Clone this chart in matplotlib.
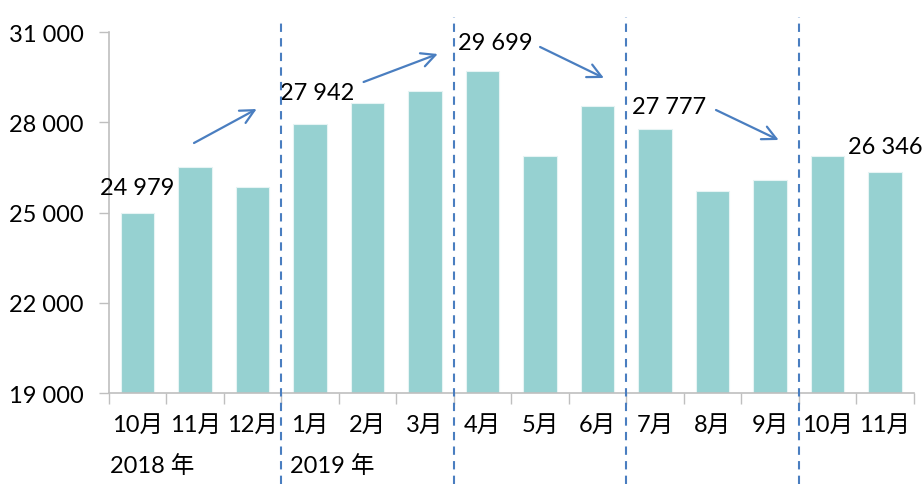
import matplotlib
matplotlib.use("Agg")
import matplotlib.pyplot as plt
import numpy as np

months = ["10月", "11月", "12月", "1月", "2月", "3月", "4月", "5月", "6月",
          "7月", "8月", "9月", "10月", "11月"]
values = [24979, 26510, 25850, 27942, 28630, 29040, 29699, 26890, 28530,
          27777, 25710, 26080, 26890, 26346]
labelled = {0: "24 979", 3: "27 942", 6: "29 699", 9: "27 777", 13: "26 346"}
label_offsets = {0: (0, 26), 3: (7, 32), 6: (13, 29), 9: (14, 22), 13: (0, 26)}
year_labels = [(0, "2018 年", 1), (3, "2019 年", 9)]
separators = [2.5, 5.5, 8.5, 11.5]
arrows = [((0.98, 27311), (2.07, 28441)),
          ((3.93, 29339), (5.22, 30270)),
          ((7.00, 30503), (8.11, 29472)),
          ((10.06, 28408), (11.15, 27411))]
yticks = [19000, 22000, 25000, 28000, 31000]

FAM = ["Lato", "Noto Sans CJK SC", "DejaVu Sans"]
plt.rcParams["font.family"] = FAM
FS = 17
BLUE = "#4A7EC0"

fig = plt.figure(figsize=(9.23, 4.85), dpi=100)
ax = fig.add_axes([0.118, 0.1876, 0.872, 0.7443])

x = np.arange(len(values))
ax.bar(x, values, width=0.58, color="#96D1D1", edgecolor="#E6F4F4", linewidth=0.8, zorder=2)

ax.set_xlim(-0.5, len(values) - 0.5)
ax.set_ylim(19000, 31000)
ax.set_yticks(yticks)
ax.set_yticklabels([f"{v:,}".replace(",", " ") for v in yticks], fontsize=FS)

ax.set_xticks(x)
ax.set_xticklabels(months, fontsize=FS)
ax.set_xticks(np.arange(-0.5, len(values), 1.0), minor=True)
ax.tick_params(axis="x", which="major", length=0, pad=15)
ax.tick_params(axis="x", which="minor", length=8, color="#BFBFBF", width=1)
ax.tick_params(axis="y", length=7, color="#BFBFBF", width=1, pad=11)

for s in ["top", "right"]:
    ax.spines[s].set_visible(False)
for s in ["left", "bottom"]:
    ax.spines[s].set_color("#BFBFBF")
    ax.spines[s].set_linewidth(1.2)

for i, txt in labelled.items():
    dx, dy = label_offsets[i]
    ax.annotate(txt, (x[i], values[i]), xytext=(dx, dy), textcoords="offset pixels",
                ha="center", va="center", fontsize=FS, color="black")

for i, txt, off in year_labels:
    ax.annotate(txt, (x[i] - 0.5, 0), xycoords=("data", "axes fraction"),
                xytext=(off, -72), textcoords="offset pixels",
                ha="left", va="center", fontsize=FS)

for k, sx in enumerate(separators):
    ax.axvline(sx, ymin=-0.252, ymax=1.033 if k == 0 else 1.042, clip_on=False,
               color=BLUE, linewidth=1.5, linestyle=(0, (4, 3)), zorder=3)

for (x0, y0), (x1, y1) in arrows:
    ax.annotate("", xy=(x1, y1), xytext=(x0, y0),
                arrowprops=dict(arrowstyle="->,head_length=1.0,head_width=0.5",
                                color=BLUE, lw=1.6, shrinkA=0, shrinkB=0))

fig.savefig("out.png", dpi=100)
